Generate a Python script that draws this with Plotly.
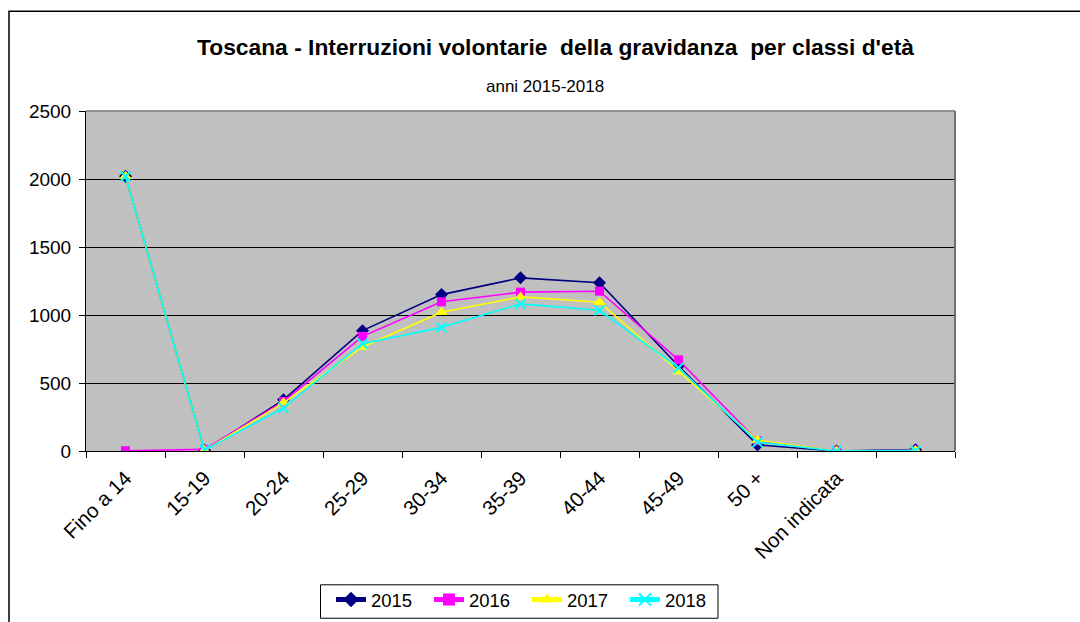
import plotly.graph_objects as go

categories = ["Fino a 14", "15-19", "20-24", "25-29", "30-34", "35-39",
              "40-44", "45-49", "50 +", "Non indicata", " "]
years = ["2015", "2016", "2017", "2018"]
v2015 = [2020, 5, 376, 885, 1150, 1273, 1237, 625, 45, 0, 10]
v2016 = [2, 12, 364, 843, 1097, 1168, 1175, 670, 75, 0, 5]
v2017 = [2020, 5, 354, 765, 1020, 1133, 1094, 585, 80, 0, 3]
v2018 = [2020, 5, 317, 789, 909, 1082, 1035, 612, 65, 0, 3]
series = [v2015, v2016, v2017, v2018]
colors = ["#000080", "#FF00FF", "#FFFF00", "#00FFFF"]
symbols = ["diamond", "square", "triangle-up", "x-thin"]
sizes = [10, 9, 11, 10]

L, R, T, B = 86, 955, 111, 451.5
W, H = 1080, 622

fig = go.Figure()
for name, vals, c, s, sz in zip(years, series, colors, symbols, sizes):
    mk = dict(symbol=s, size=sz, color=c)
    if s == "x-thin":
        mk["line"] = dict(color=c, width=2)
    fig.add_trace(go.Scatter(x=categories, y=vals, name=name, mode="lines+markers",
                             line=dict(color=c, width=1.6), marker=mk))

def px(x):
    return (x - L) / (R - L)

def py(y):
    return (B - y) / (B - T)

fig.update_layout(
    width=W, height=H,
    margin=dict(l=L, r=W - R, t=T, b=H - B, autoexpand=False),
    paper_bgcolor="white", plot_bgcolor="#C0C0C0",
    font=dict(family="Liberation Sans, Arial, sans-serif", color="black"),
    showlegend=True,
    legend=dict(orientation="h", x=px(527), xanchor="center",
                yref="container", y=1 - 581 / H, yanchor="top",
                borderwidth=0, bgcolor="rgba(0,0,0,0)",
                font=dict(size=18.5), entrywidth=53, entrywidthmode="pixels",
                traceorder="normal", tracegroupgap=0),
    xaxis=dict(type="category", tickangle=-45, tickson="boundaries", ticks="outside",
               ticklen=6, tickcolor="black", showline=True, linecolor="black", linewidth=1,
               showgrid=False, tickfont=dict(size=20.5), range=[-0.5, 10.5],
               automargin=False, ticklabelstandoff=6),
    yaxis=dict(range=[0, 2500], dtick=500, ticks="outside", ticklen=6, tickcolor="black",
               showline=True, linecolor="black", linewidth=1, showgrid=True,
               gridcolor="black", gridwidth=1, zeroline=False, tickfont=dict(size=19),
               automargin=False, ticklabelstandoff=4),
    annotations=[
        dict(text="<b>Toscana - Interruzioni volontarie  della gravidanza  per classi d'età</b>",
             xref="paper", yref="paper", x=px(555), y=py(47), xanchor="center",
             yanchor="middle", showarrow=False, font=dict(size=22.8)),
        dict(text="anni 2015-2018", xref="paper", yref="paper", x=px(545), y=py(86),
             xanchor="center", yanchor="middle", showarrow=False, font=dict(size=17)),
    ],
    shapes=[
        dict(type="rect", xref="paper", yref="paper", x0=px(9), x1=px(1140),
             y0=py(700), y1=py(11), line=dict(color="black", width=1.5), layer="below"),
        dict(type="line", xref="paper", yref="paper", x0=0, x1=1, y0=1, y1=1,
             line=dict(color="#909090", width=2)),
        dict(type="line", xref="paper", yref="paper", x0=1, x1=1, y0=0, y1=1,
             line=dict(color="#707070", width=2)),
        dict(type="rect", xref="paper", yref="paper", x0=px(320.5), x1=px(718),
             y0=py(619), y1=py(585.5), line=dict(color="black", width=1)),
    ],
)
fig.update_layout(legend_itemsizing="constant")
fig.write_html("out.html", config={"displayModeBar": False},
               post_script="document.body.style.margin='0';document.body.style.overflow='hidden';")
